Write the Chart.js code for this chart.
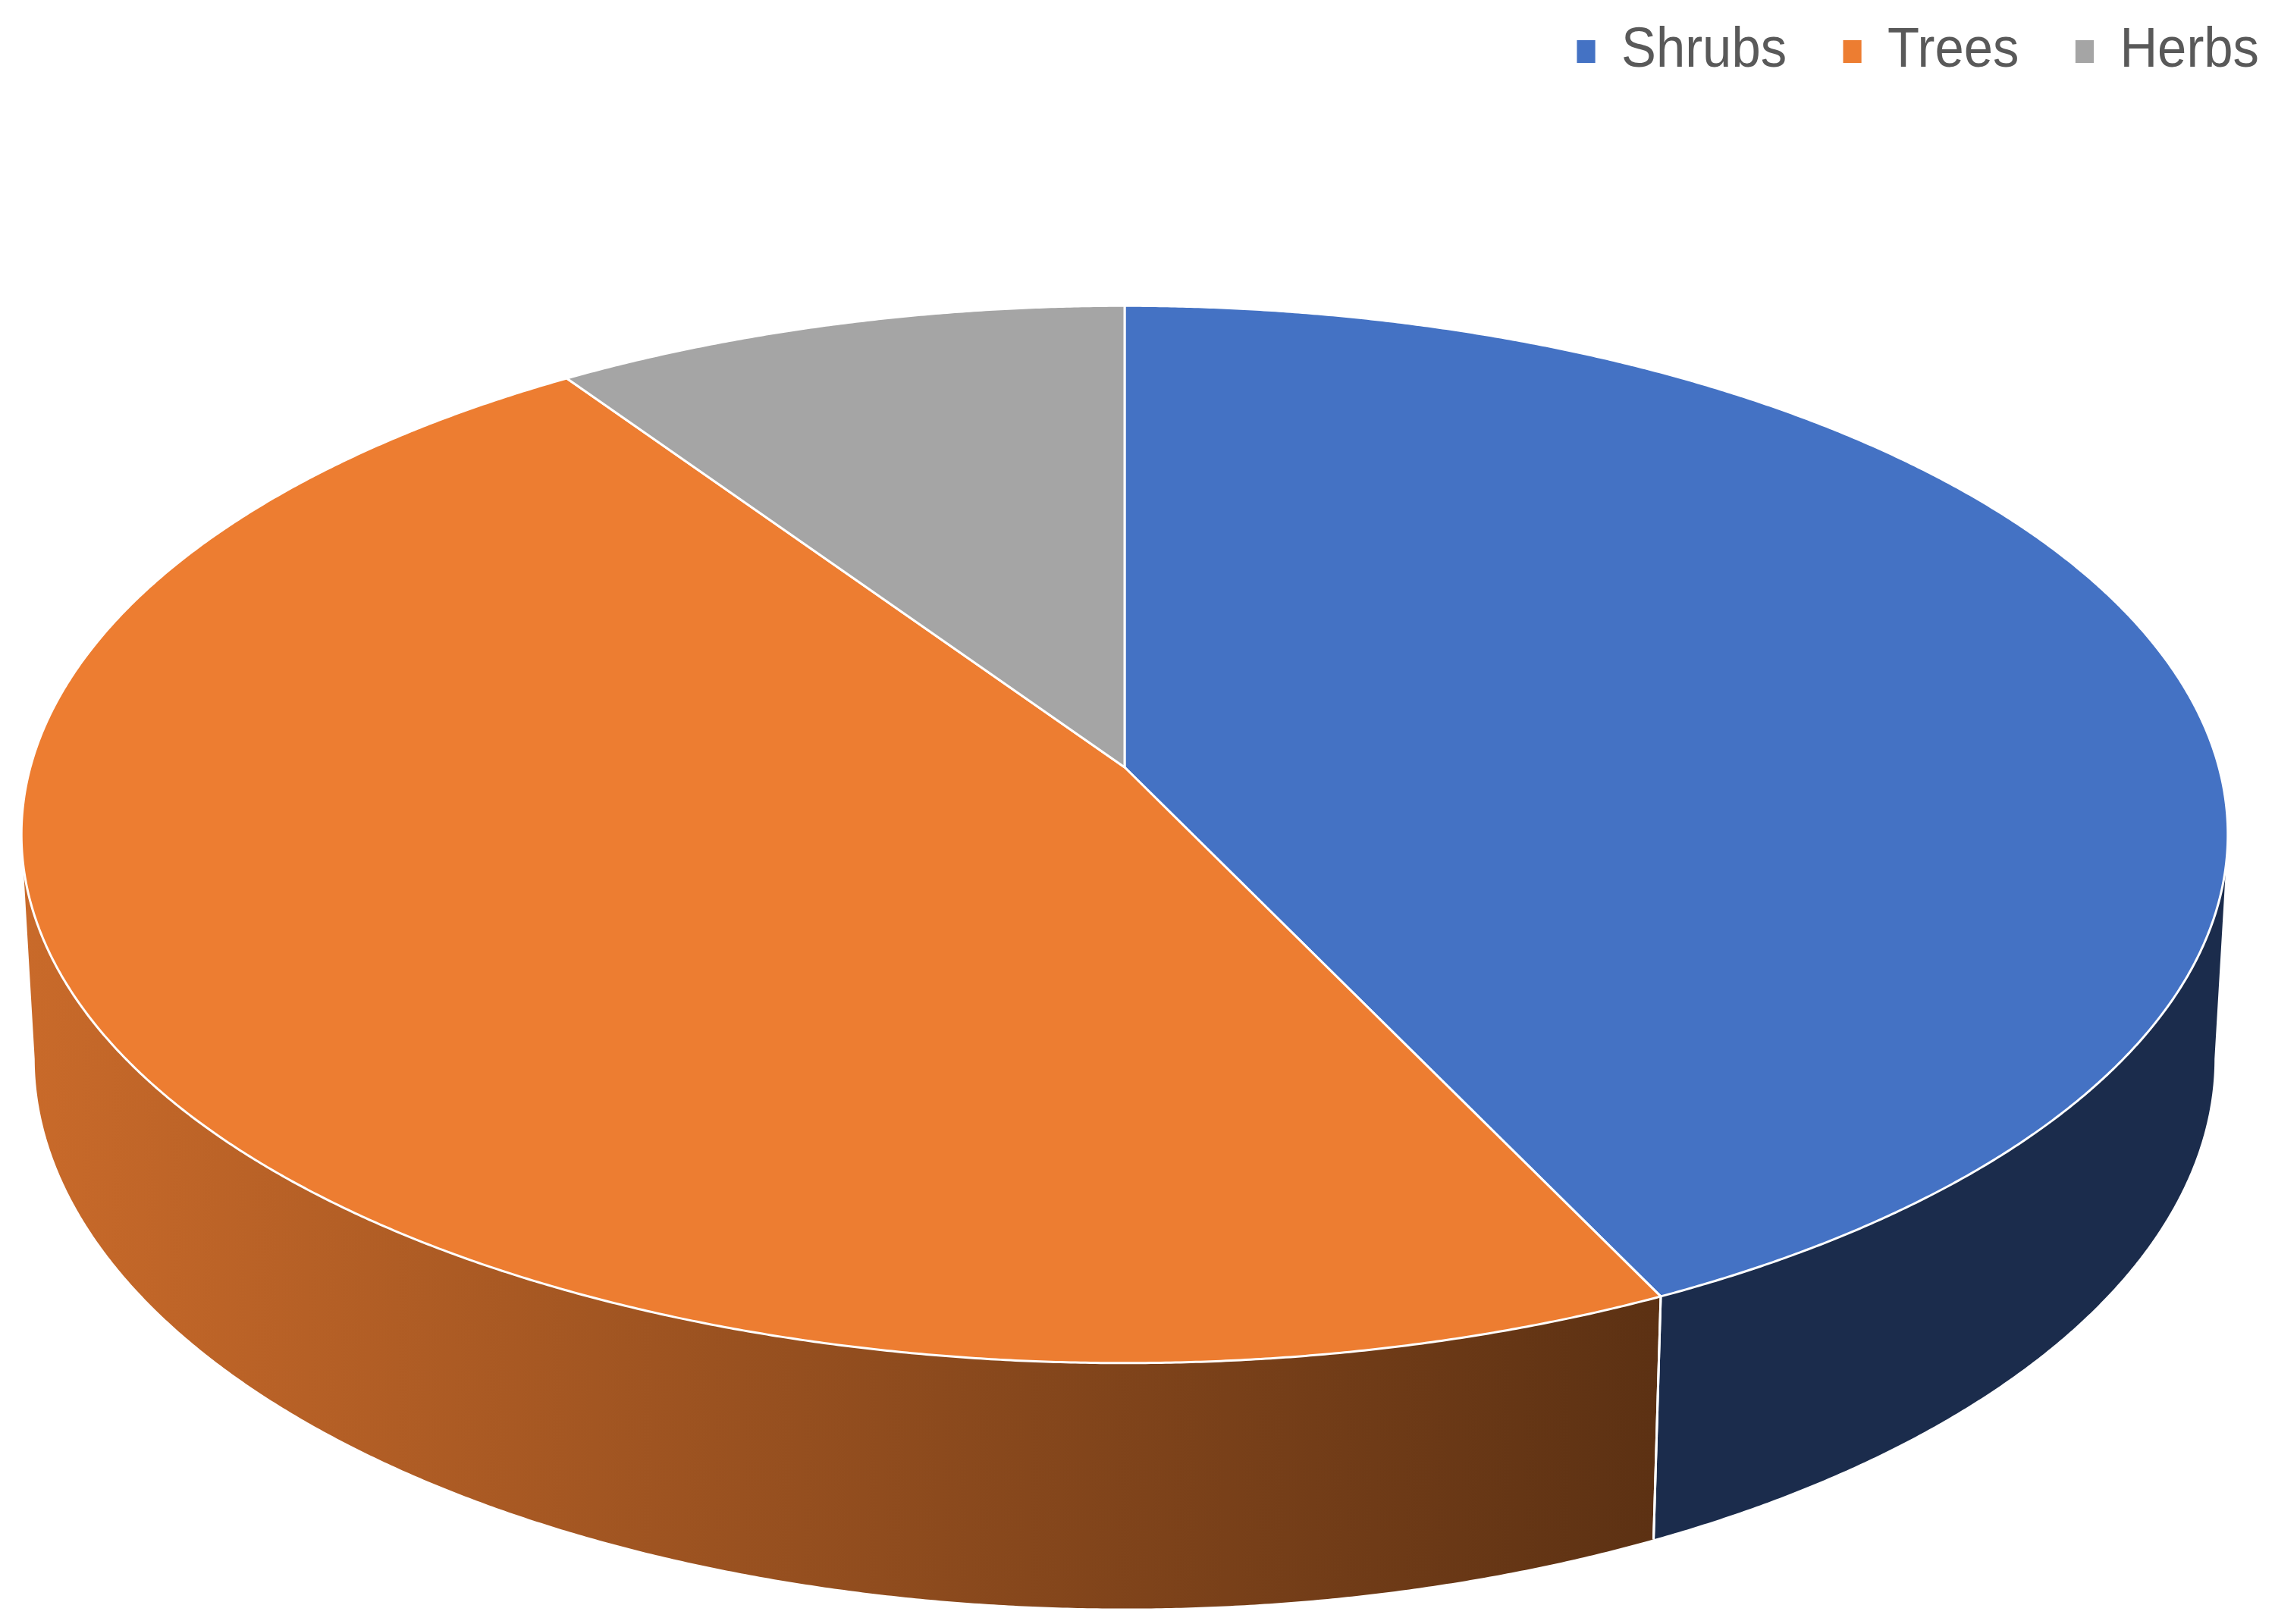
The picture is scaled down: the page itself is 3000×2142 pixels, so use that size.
<!DOCTYPE html>
<html>
<head>
<meta charset="utf-8">
<script src="https://cdn.jsdelivr.net/npm/chart.js@4.4.1/dist/chart.umd.min.js"></script>
<style>
  html, body { margin: 0; padding: 0; background: #fff; }
  #wrap { width: 3000px; height: 2142px; }
</style>
</head>
<body>
<div id="wrap"><canvas id="pieChart" width="3000" height="2142"></canvas></div>
<script>
const labels = ["Shrubs", "Trees", "Herbs"];
const values = [45, 50, 10];
const colors = ["#4472C4", "#ED7D31", "#A5A5A5"];

// 3D look: top face squashed with a little perspective, wall hanging below it
const CY = 1012;
const RX = 1443;
const RY = 686;
const PERSP = 0.127;   // far side smaller
const SINK = 0.012;    // bottom rim a touch smaller
const DEPTH = 296;

// legend is a bit narrower than the font, and sits tight to the top
const LEGEND_SX = 0.93;
const LEGEND_END = 2979;
const LEGEND_MID = 68;

function project(cx, a, z) {
  const u = Math.cos(a), v = -Math.sin(a);
  const w = 1 + PERSP * v + SINK * z;
  return [cx + RX * u / w, CY + (-RY * v + DEPTH * z) / w];
}

function shade(hex, f) {
  const n = parseInt(hex.slice(1), 16);
  const r = Math.round(((n >> 16) & 255) * f);
  const g = Math.round(((n >> 8) & 255) * f);
  const b = Math.round((n & 255) * f);
  return `rgb(${r},${g},${b})`;
}

function arcPoints(cx, s, e, z) {
  const pts = [];
  const steps = Math.max(2, Math.ceil((e - s) / 0.004));
  for (let i = 0; i <= steps; i++) pts.push(project(cx, s + (e - s) * i / steps, z));
  return pts;
}

const pie3d = {
  id: "pie3d",
  beforeDatasetsDraw(chart) {
    const ctx = chart.ctx;
    const arcs = chart.getDatasetMeta(0).data;
    const cx = arcs[0].x;
    const a0 = Math.asin(PERSP);
    const a1 = Math.PI - a0;
    const leftX = project(cx, a1, 0)[0];
    const rightX = project(cx, a0, 0)[0];

    ctx.save();
    // side walls (front half only)
    arcs.forEach((el, i) => {
      const s = Math.max(el.startAngle, a0);
      const e = Math.min(el.endAngle, a1);
      if (s >= e) return;
      const top = arcPoints(cx, s, e, 0);
      const bot = arcPoints(cx, s, e, 1).reverse();
      const grad = ctx.createLinearGradient(leftX, 0, rightX, 0);
      grad.addColorStop(0, shade(colors[i], 0.85));
      grad.addColorStop(0.743, shade(colors[i], 0.39));
      grad.addColorStop(1, shade(colors[i], 0.39));
      ctx.beginPath();
      top.concat(bot).forEach(([x, y], k) => (k ? ctx.lineTo(x, y) : ctx.moveTo(x, y)));
      ctx.closePath();
      ctx.fillStyle = grad;
      ctx.fill();
    });

    // seams on the wall
    ctx.strokeStyle = "#ffffff";
    ctx.lineWidth = 3;
    arcs.forEach((el) => {
      [el.startAngle, el.endAngle].forEach((a) => {
        if (a <= a0 || a >= a1) return;
        const [x1, y1] = project(cx, a, 0);
        const [x2, y2] = project(cx, a, 1);
        ctx.beginPath();
        ctx.moveTo(x1, y1);
        ctx.lineTo(x2, y2);
        ctx.stroke();
      });
    });

    // top face
    ctx.lineJoin = "round";
    arcs.forEach((el, i) => {
      const pts = arcPoints(cx, el.startAngle, el.endAngle, 0);
      ctx.beginPath();
      ctx.moveTo(cx, CY);
      pts.forEach(([x, y]) => ctx.lineTo(x, y));
      ctx.closePath();
      ctx.fillStyle = colors[i];
      ctx.fill();
      ctx.stroke();
    });
    ctx.restore();
    return false;
  }
};

const squeezeLegend = {
  id: "squeezeLegend",
  beforeDraw(chart) {
    const lg = chart.legend;
    if (!lg || lg._squeezed) return;
    lg._squeezed = true;
    const orig = lg.draw.bind(lg);
    lg.draw = function () {
      const hb = lg.legendHitBoxes;
      const last = hb[hb.length - 1];
      const endX = last.left + last.width;
      const midY = hb[0].top + hb[0].height / 2;
      const ctx = chart.ctx;
      ctx.save();
      ctx.translate(LEGEND_END, LEGEND_MID - midY);
      ctx.scale(LEGEND_SX, 1);
      ctx.translate(-endX, 0);
      orig();
      ctx.restore();
    };
  }
};

const ctx = document.getElementById("pieChart").getContext("2d");
const pieChart = new Chart(ctx, {
  type: "pie",
  data: {
    labels: labels,
    datasets: [{
      data: values,
      backgroundColor: colors,
      borderWidth: 0,
    }],
  },
  options: {
    responsive: false,
    animation: false,
    devicePixelRatio: 1,
    layout: { padding: { right: 34 } },
    plugins: {
      tooltip: { enabled: false },
      legend: {
        position: "top",
        align: "end",
        labels: {
          boxWidth: 26,
          boxHeight: 30,
          padding: 80,
          color: "#595959",
          font: { family: "'Liberation Sans', Arial, sans-serif", size: 74 },
        },
      },
    },
  },
  plugins: [pie3d, squeezeLegend],
});
</script>
</body>
</html>
